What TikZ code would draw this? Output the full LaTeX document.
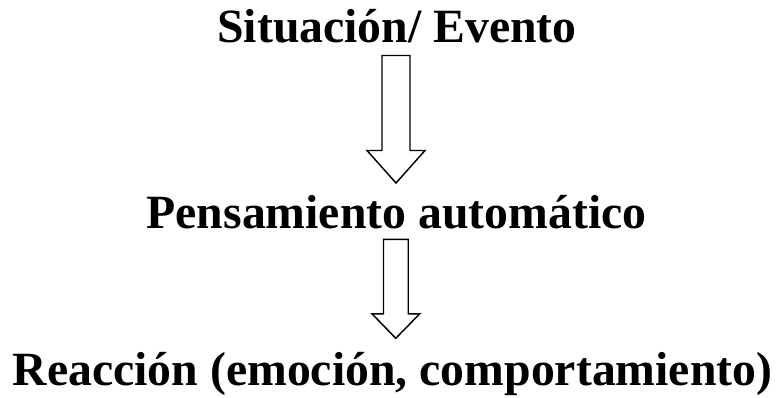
\documentclass[tikz,border=0pt]{standalone}
\usepackage{fontspec}
\setmainfont{Liberation Serif}
\usepackage{tikz}
\usetikzlibrary{positioning}
\tikzset{texto/.style={font=\fontsize{35.8}{40}\selectfont\bfseries, inner sep=0pt, anchor=base}}
\tikzset{flecha/.style={draw, line width=1.1pt, fill=white, line join=miter}}

\begin{document}
\begin{tikzpicture}[x=0.75pt,y=-0.75pt]
\useasboundingbox (0,0) rectangle (781,397);
\node[texto] (sit) at (397,42.5) {Situación/ Evento};
\node[texto] (pen) at (396.5,228) {Pensamiento automático};
\node[texto] (rea) at (392.5,385) {Reacción (emoción, comportamiento)};
% flechas huecas
\coordinate (t1) at (396,55.5);
\coordinate (p1) at (396,183);
\coordinate (t2) at (395.5,239.3);
\coordinate (p2) at (395.75,338.3);
\draw[flecha] (t1) ++(-14,0) -- ++(0,95) -- ++(-15,0) -- (p1) -- ++(29,-32.5)
 -- ++(-15,0) -- ++(0,-95) -- cycle;
\draw[flecha] (t2) ++(-12,0) -- ++(0,74.5) -- ++(-11.5,0) -- (p2) -- ++(24,-24.5)
 -- ++(-11.5,0) -- ++(0,-74.5) -- cycle;
\end{tikzpicture}
\end{document}
